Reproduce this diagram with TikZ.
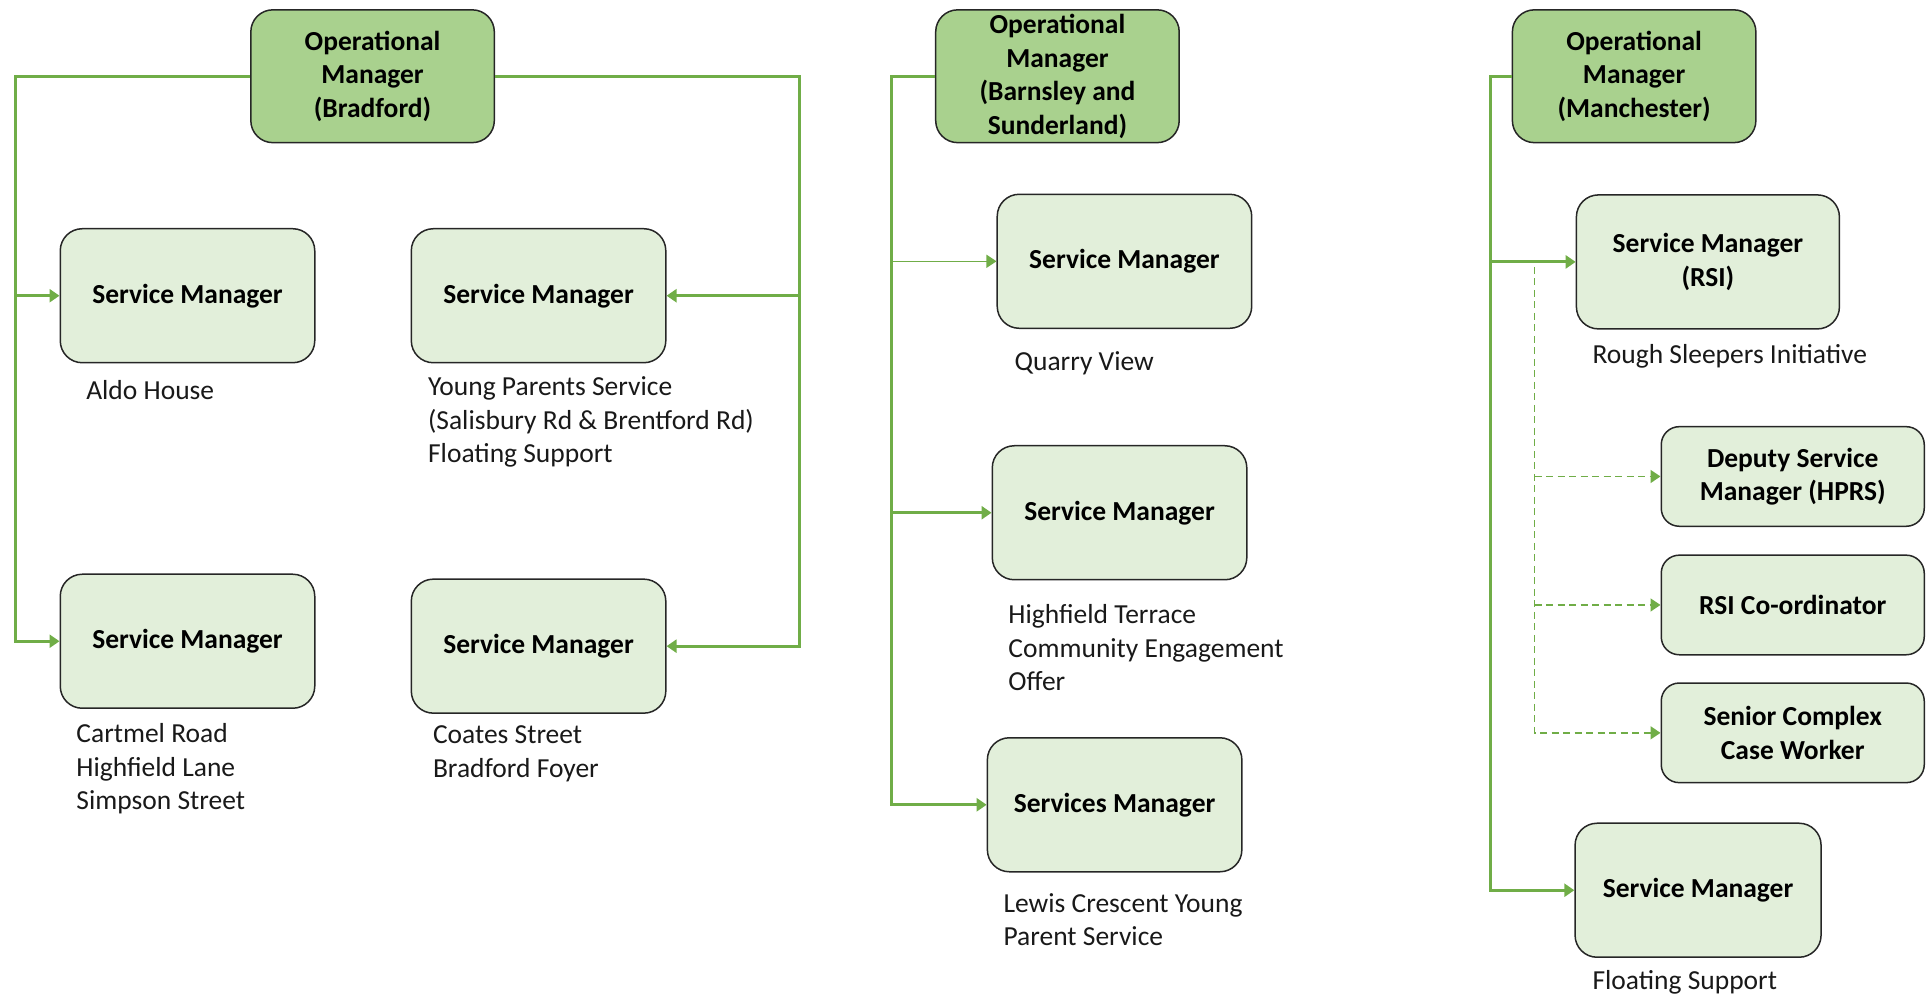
\documentclass[tikz,border=0pt]{standalone}
\usepackage{fontspec}
\setmainfont{Carlito}
\usetikzlibrary{arrows.meta}
\definecolor{omgreen}{RGB}{169,209,142}
\definecolor{smgreen}{RGB}{226,239,218}
\definecolor{linkgreen}{RGB}{112,173,71}

\begin{document}
\begin{tikzpicture}[x=1.2296pt,y=-1.2296pt,
  every node/.style={font=\fontsize{27.5}{33.5}\selectfont},
  om/.style={draw=black!85,line width=1.5pt,rounded corners=22pt,fill=omgreen,align=center,
    font=\fontsize{27.5}{33.5}\selectfont\bfseries,minimum width=243.5pt,minimum height=132.8pt,inner sep=0pt},
  sm/.style={om,fill=smgreen,minimum width=254.5pt,minimum height=134pt},
  smsmall/.style={sm,minimum width=263pt,minimum height=99.6pt,rounded corners=18pt},
  lbl/.style={anchor=west,align=left,inner sep=0pt,text=black!90},
  link/.style={draw=linkgreen,line width=3pt,-{Triangle[length=10pt,width=13pt]}},
  thinlink/.style={link,line width=1.3pt},
  dlink/.style={link,line width=1.6pt,dash pattern=on 7pt off 4.5pt}]
\useasboundingbox (0,0) rectangle (1568,809);

% Bradford
\node[om] (omb) at (303,62) {Operational\\Manager\\(Bradford)};
\node[sm] (sm1) at (152.5,240.5) {Service Manager};
\node[sm] (sm2) at (438,240.5) {Service Manager};
\node[sm] (sm3) at (152.5,521.5) {Service Manager};
\node[sm] (sm4) at (438,525.5) {Service Manager};
\node[lbl] (aldo) at (70,317) {Aldo House};
\node[lbl] (young) at (348,343.5) {Young Parents Service\\(Salisbury Rd \& Brentford Rd)\\Floating Support};
\node[lbl] (cart) at (62,625.5) {Cartmel Road\\Highfield Lane\\Simpson Street};
\node[lbl] (coat) at (352,613) {Coates Street\\Bradford Foyer};
\coordinate (bL) at (13,0);
\coordinate (bR) at (650,0);
\draw[link] (omb.west) -| (bL |- sm3.west) -- (sm3.west);
\draw[link] (bL |- sm1.west) -- (sm1.west);
\draw[link] (omb.east) -| (bR |- sm4.east) -- (sm4.east);
\draw[link] (bR |- sm2.east) -- (sm2.east);

% Barnsley and Sunderland
\node[om] (omn) at (860,62) {Operational\\Manager\\(Barnsley and\\Sunderland)};
\node[sm] (sm5) at (914.5,212.5) {Service Manager};
\node[sm] (sm6) at (910.5,417) {Service Manager};
\node[sm] (sm7) at (906.5,654.5) {Services Manager};
\node[lbl] (quarry) at (825,295.5) {Quarry View};
\node[lbl] (highf) at (820,527) {Highfield Terrace\\Community Engagement\\Offer};
\node[lbl] (lewis) at (816,748) {Lewis Crescent Young\\Parent Service};
\coordinate (nL) at (725,0);
\draw[link] (omn.west) -| (nL |- sm7.west) -- (sm7.west);
\draw[thinlink] (nL |- sm5.west) -- (sm5.west);
\draw[link] (nL |- sm6.west) -- (sm6.west);

% Manchester
\node[om] (omm) at (1329,62) {Operational\\Manager\\(Manchester)};
\node[sm,minimum width=263pt] (sm8) at (1389,213) {Service Manager\\(RSI)};
\node[smsmall] (dsm) at (1458,387.5) {Deputy Service\\Manager (HPRS)};
\node[smsmall] (rsi) at (1458,492) {RSI Co-ordinator};
\node[smsmall] (sen) at (1458,596) {Senior Complex\\Case Worker};
\node[sm,minimum width=246pt] (sm9) at (1381,724) {Service Manager};
\node[lbl] (rough) at (1295,289.5) {Rough Sleepers Initiative};
\node[lbl] (float) at (1295,799) {Floating Support};
\coordinate (mL) at (1212,0);
\coordinate (mD) at (1248,0);
\draw[link] (omm.west) -| (mL |- sm9.west) -- (sm9.west);
\draw[link] (mL |- sm8.west) -- (sm8.west);
\draw[dlink] ([yshift=-5pt]mD |- sm8.west) |- (sen.west);
\draw[dlink] (mD |- dsm.west) -- (dsm.west);
\draw[dlink] (mD |- rsi.west) -- (rsi.west);
\end{tikzpicture}
\end{document}
